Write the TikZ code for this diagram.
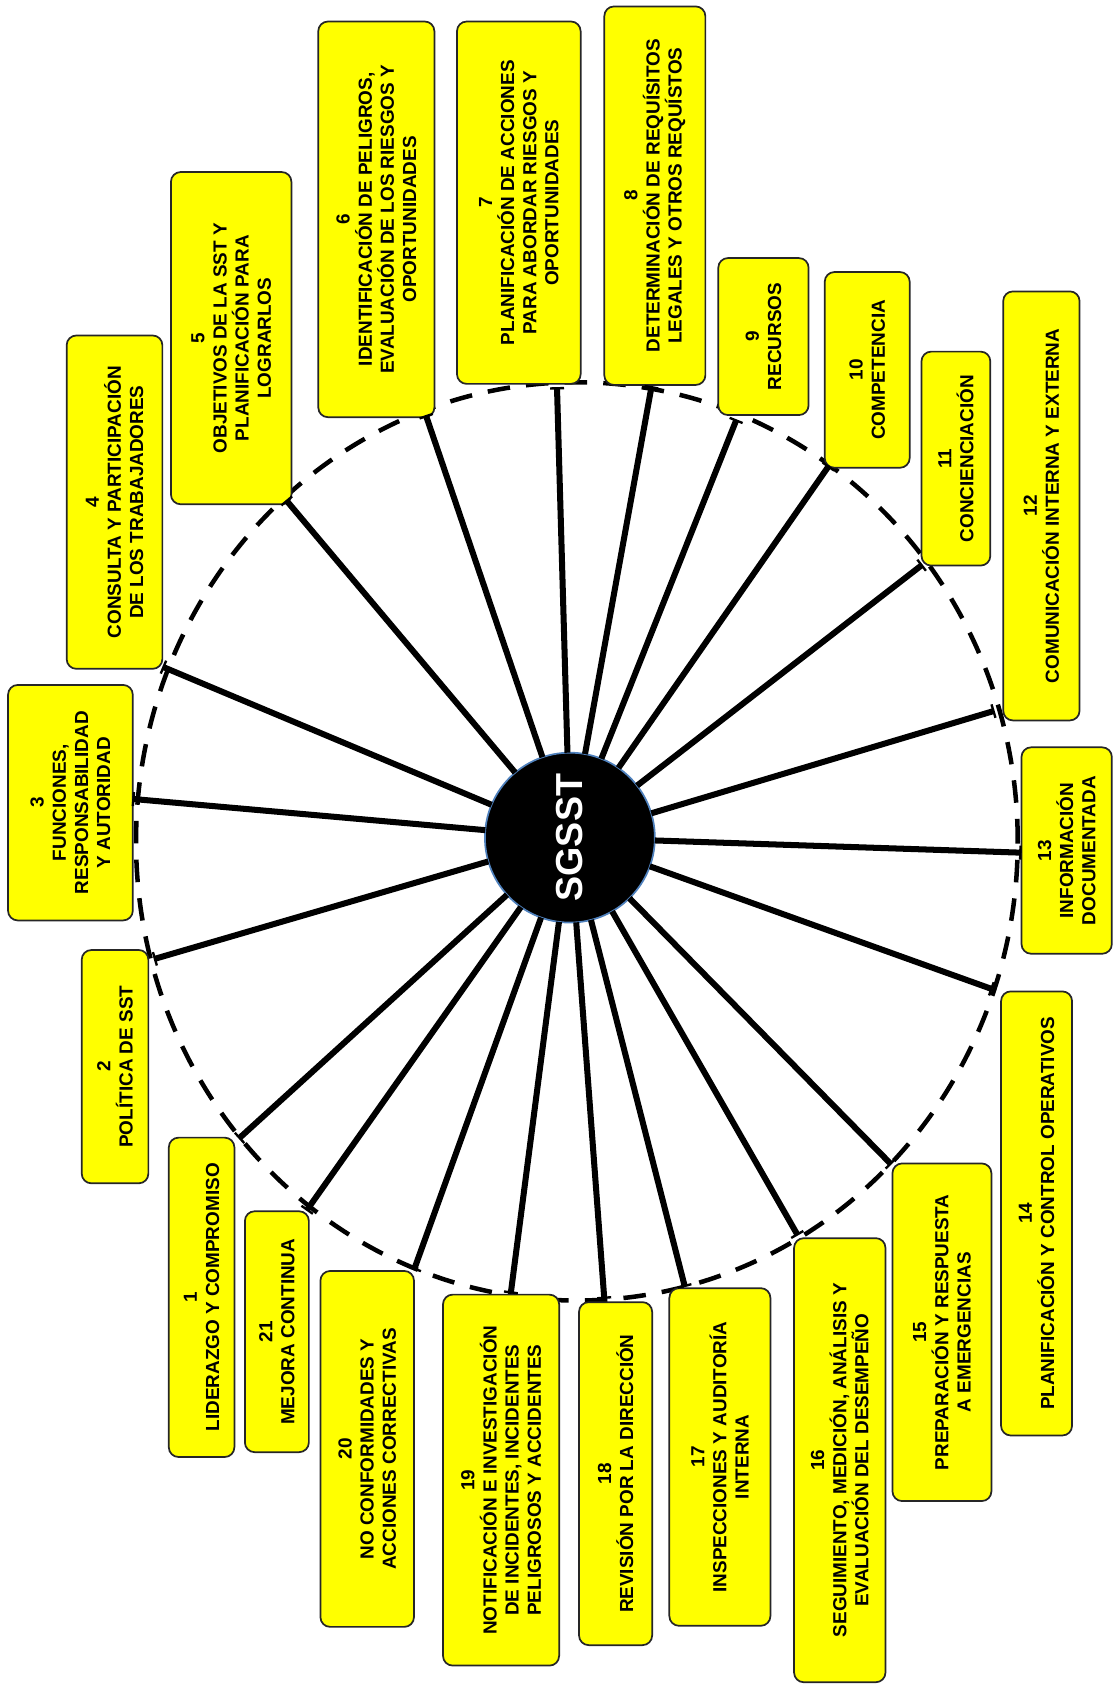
\documentclass[tikz,border=0pt]{standalone}
\usepackage{fontspec}
\setmainfont{Liberation Sans}
\usetikzlibrary{arrows.meta}
\definecolor{boxyellow}{RGB}{255,255,0}
\definecolor{rimblue}{RGB}{79,129,189}

\begin{document}
\begin{tikzpicture}[x=0.5pt,y=-0.5pt,
  item/.style={draw=black!85, line width=0.8pt, fill=boxyellow, rounded corners=4.5pt,
    rotate=90, align=center, inner sep=1pt, font=\bfseries\fontsize{8.8}{10.3}\selectfont},
  spoke/.style={line width=2.8pt, -{Bar[width=6.5pt,line width=1.1pt]}}]
\useasboundingbox (0,0) rectangle (1035,1568);

% Draw dashed ring behind the boxes.
\draw[line width=2.1pt, dash pattern=on 10.5pt off 7.5pt] (536.5,782.5) ellipse [x radius=205pt, y radius=213.5pt];

\node[item, minimum width=148.5pt, minimum height=30.5pt] (b1) at (187.5,1206.5) {1\\LIDERAZGO Y COMPROMISO};
\node[item, minimum width=108.5pt, minimum height=31pt] (b2) at (107,992) {2\\POLÍTICA DE SST};
\node[item, minimum width=109.5pt, minimum height=58pt] (b3) at (65.5,746.5) {3\\FUNCIONES,\\RESPONSABILIDAD\\Y AUTORIDAD};
\node[item, minimum width=155pt, minimum height=44.5pt] (b4) at (106.5,467) {4\\CONSULTA Y PARTICIPACIÓN\\DE LOS TRABAJADORES};
\node[item, minimum width=154.5pt, minimum height=56pt] (b5) at (215,314.5) {5\\OBJETIVOS DE LA SST Y\\PLANIFICACIÓN PARA\\LOGRARLOS};
\node[item, minimum width=184pt, minimum height=54pt] (b6) at (350,204) {6\\IDENTIFICACIÓN DE PELIGROS,\\EVALUACIÓN DE LOS RIESGOS Y\\OPORTUNIDADES};
\node[item, minimum width=168.5pt, minimum height=57.5pt] (b7) at (482.5,188.5) {7\\PLANIFICACIÓN DE ACCIONES\\PARA ABORDAR RIESGOS Y\\OPORTUNIDADES};
\node[item, minimum width=176pt, minimum height=47pt] (b8) at (609,182) {8\\DETERMINACIÓN DE REQUÍSITOS\\LEGALES Y OTROS REQUÍSTOS};
\node[item, minimum width=73pt, minimum height=42pt] (b9) at (710,313) {9\\RECURSOS};
\node[item, minimum width=91pt, minimum height=39.5pt] (b10) at (806.5,344) {10\\COMPETENCIA};
\node[item, minimum width=99.5pt, minimum height=32pt] (b11) at (889,426.5) {11\\CONCIENCIACIÓN};
\node[item, minimum width=199.5pt, minimum height=35.5pt] (b12) at (968.5,470.5) {12\\COMUNICACIÓN INTERNA Y EXTERNA};
\node[item, minimum width=96pt, minimum height=42pt] (b13) at (992,791) {13\\INFORMACIÓN\\DOCUMENTADA};
\node[item, minimum width=206.5pt, minimum height=33pt] (b14) at (964,1128.5) {14\\PLANIFICACIÓN Y CONTROL OPERATIVOS};
\node[item, minimum width=157pt, minimum height=46pt] (b15) at (876,1239) {15\\PREPARACIÓN Y RESPUESTA\\A EMERGENCIAS};
\node[item, minimum width=206.5pt, minimum height=42.5pt] (b16) at (781,1358) {16\\SEGUIMIENTO, MEDICIÓN, ANÁLISIS Y\\EVALUACIÓN DEL DESEMPEÑO};
\node[item, minimum width=157pt, minimum height=47pt] (b17) at (669.5,1355) {17\\INSPECCIONES Y AUDITORÍA\\INTERNA};
\node[item, minimum width=159.5pt, minimum height=34pt] (b18) at (572.5,1370.5) {18\\REVISIÓN POR LA DIRECCIÓN};
\node[item, minimum width=172.5pt, minimum height=54pt] (b19) at (466,1376.5) {19\\NOTIFICACIÓN E INVESTIGACIÓN\\DE INCIDENTES, INCIDENTES\\PELIGROSOS Y ACCIDENTES};
\node[item, minimum width=165.5pt, minimum height=43.5pt] (b20) at (341.5,1347.5) {20\\NO CONFORMIDADES Y\\ACCIONES CORRECTIVAS};
\node[item, minimum width=112pt, minimum height=29.75pt] (b21) at (257.5,1238.5) {21\\MEJORA CONTINUA};

% Hub in the middle.
\node[circle, fill=black, draw=rimblue, line width=0.8pt, minimum size=79pt, inner sep=0pt, outer sep=0pt,
  text=white, rotate=90, font=\bfseries\fontsize{17.5}{20}\selectfont] (sgsst) at (530,779) {SGSST};

% Spoke ends on the ring.
\coordinate (t1) at (222,1059);
\coordinate (t2) at (143,892);
\coordinate (t3) at (123,743);
\coordinate (t4) at (151,620);
\coordinate (t5) at (266,465);
\coordinate (t6) at (396,386);
\coordinate (t7) at (518,360);
\coordinate (t8) at (606,359);
\coordinate (t9) at (685,390);
\coordinate (t10) at (771,433);
\coordinate (t11) at (858,525);
\coordinate (t12) at (925,661);
\coordinate (t13) at (950,793);
\coordinate (t14) at (923,920);
\coordinate (t15) at (829,1083);
\coordinate (t16) at (742,1149);
\coordinate (t17) at (637,1197);
\coordinate (t18) at (562,1208);
\coordinate (t19) at (475,1203);
\coordinate (t20) at (385,1181);
\coordinate (t21) at (285,1126);

% Draw spokes from the hub.
\draw[spoke] (sgsst) -- (t1);
\draw[spoke] (sgsst) -- (t2);
\draw[spoke] (sgsst) -- (t3);
\draw[spoke] (sgsst) -- (t4);
\draw[spoke] (sgsst) -- (t5);
\draw[spoke] (sgsst) -- (t6);
\draw[spoke] (sgsst) -- (t7);
\draw[spoke] (sgsst) -- (t8);
\draw[spoke] (sgsst) -- (t9);
\draw[spoke] (sgsst) -- (t10);
\draw[spoke] (sgsst) -- (t11);
\draw[spoke] (sgsst) -- (t12);
\draw[spoke] (sgsst) -- (t13);
\draw[spoke] (sgsst) -- (t14);
\draw[spoke] (sgsst) -- (t15);
\draw[spoke] (sgsst) -- (t16);
\draw[spoke] (sgsst) -- (t17);
\draw[spoke] (sgsst) -- (t18);
\draw[spoke] (sgsst) -- (t19);
\draw[spoke] (sgsst) -- (t20);
\draw[spoke] (sgsst) -- (t21);
\end{tikzpicture}
\end{document}
